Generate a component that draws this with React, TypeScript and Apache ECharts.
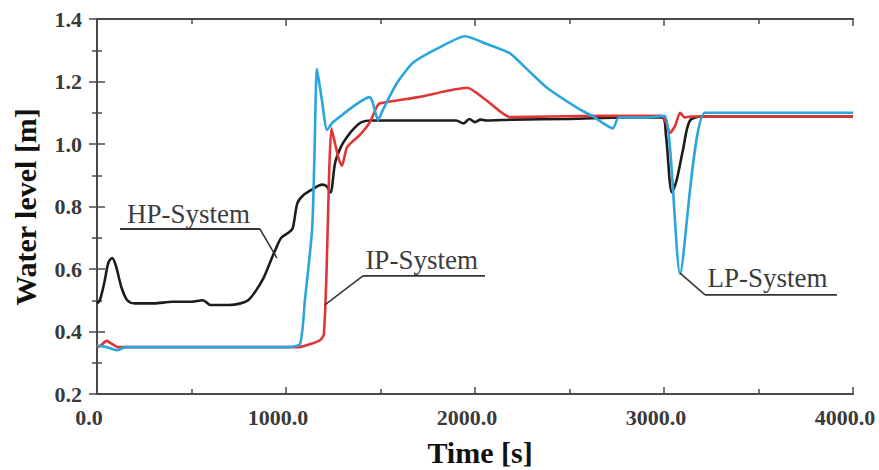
import React, { useEffect, useRef } from "react";
import * as echarts from "echarts";

const xTicks = ["0.0", "1000.0", "2000.0", "3000.0", "4000.0"];

const hpTime = [0, 15, 40, 60, 80, 100, 130, 160, 200, 300, 400, 500, 560, 600, 700, 760, 800, 840, 880, 915, 950, 975, 1010, 1035, 1060, 1090, 1140, 1190, 1215, 1235, 1260, 1290, 1320, 1360, 1400, 1450, 1600, 1800, 1900, 1940, 1970, 2000, 2030, 2060, 2200, 2500, 2800, 2990, 3010, 3042, 3065, 3100, 3137, 3200, 3500, 4000];
const hpLevel = [0.49, 0.5, 0.56, 0.62, 0.635, 0.61, 0.54, 0.5, 0.49, 0.49, 0.495, 0.495, 0.5, 0.485, 0.485, 0.49, 0.5, 0.53, 0.57, 0.62, 0.67, 0.7, 0.715, 0.73, 0.81, 0.835, 0.855, 0.87, 0.865, 0.845, 0.94, 0.99, 1.02, 1.05, 1.07, 1.075, 1.075, 1.075, 1.075, 1.066, 1.08, 1.07, 1.078, 1.075, 1.078, 1.08, 1.085, 1.085, 1.03, 0.845, 0.88, 0.98, 1.075, 1.088, 1.088, 1.088];

const ipTime = [0, 20, 50, 80, 110, 300, 600, 900, 1070, 1130, 1180, 1200, 1215, 1228, 1240, 1260, 1280, 1296, 1323, 1392, 1444, 1481, 1497, 1700, 1958, 2060, 2185, 2400, 2700, 2990, 3010, 3032, 3060, 3085, 3110, 3140, 3500, 4000];
const ipLevel = [0.35, 0.355, 0.37, 0.36, 0.35, 0.35, 0.35, 0.35, 0.35, 0.36, 0.372, 0.39, 0.6, 0.9, 1.05, 1.0, 0.95, 0.93, 0.99, 1.03, 1.07, 1.12, 1.13, 1.15, 1.18, 1.14, 1.086, 1.088, 1.09, 1.09, 1.07, 1.035, 1.06, 1.1, 1.085, 1.088, 1.088, 1.088];

const lpTime = [0, 50, 106, 150, 400, 700, 1000, 1074, 1100, 1138, 1150, 1164, 1190, 1217, 1249, 1444, 1460, 1487, 1513, 1587, 1672, 1815, 1947, 2063, 2185, 2291, 2381, 2556, 2620, 2730, 2760, 2900, 3005, 3085, 3217, 3500, 4000];
const lpLevel = [0.355, 0.35, 0.34, 0.35, 0.35, 0.35, 0.35, 0.36, 0.5, 0.725, 0.95, 1.24, 1.14, 1.045, 1.07, 1.15, 1.13, 1.077, 1.11, 1.195, 1.26, 1.31, 1.345, 1.32, 1.29, 1.23, 1.18, 1.11, 1.09, 1.05, 1.085, 1.085, 1.09, 0.585, 1.1, 1.1, 1.1];

const labels = [
  { name: "HP-System", textAt: [159, 0.734], lineFrom: [122, 0.728], lineTo: [862, 0.728], anchor: [952, 0.635], leftAnchor: false },
  { name: "IP-System", textAt: [1420, 0.585], lineFrom: [1407, 0.578], lineTo: [2053, 0.578], anchor: [1206, 0.485], leftAnchor: true },
  { name: "LP-System", textAt: [3230, 0.527], lineFrom: [3217, 0.517], lineTo: [3915, 0.517], anchor: [3085, 0.587], leftAnchor: true },
];

const pairs = (t: number[], v: number[]) => t.map((x, i) => [x, v[i]]);

export default function App() {
  const ref = useRef<HTMLDivElement>(null);
  useEffect(() => {
    if (!ref.current) return;
    const chart = echarts.init(ref.current, null, { renderer: "svg" });
    const font = "'Liberation Serif', 'Times New Roman', serif";
    const axisLine = { show: true, lineStyle: { color: "#4a4a4a", width: 2 } };
    const baseX = {
      type: "value" as const,
      min: 0,
      max: 4000,
      interval: 1000,
      splitLine: { show: false },
      axisLine,
      axisTick: { inside: true, length: 7, lineStyle: { color: "#4a4a4a", width: 1.5 } },
      minorTick: { show: true, splitNumber: 2, length: 5, lineStyle: { color: "#4a4a4a", width: 1.5 } },
    };
    const baseY = {
      type: "value" as const,
      min: 0.2,
      max: 1.4,
      interval: 0.2,
      splitLine: { show: false },
      axisLine,
      axisTick: { inside: true, length: 8, lineStyle: { color: "#4a4a4a", width: 1.5 } },
      minorTick: { show: true, splitNumber: 2, length: 5, lineStyle: { color: "#4a4a4a", width: 1.5 } },
    };
    chart.setOption({
      animation: false,
      backgroundColor: "#ffffff",
      grid: { left: 97, right: 26, top: 19, bottom: 76 },
      xAxis: [
        {
          ...baseX,
          position: "bottom",
          axisLabel: {
            fontFamily: font,
            fontWeight: "bold",
            fontSize: 22,
            color: "#3a3a3a",
            margin: 12,
            padding: [0, 16, 0, 0],
            formatter: (v: number) => xTicks[Math.round(v / 1000)] ?? "",
          },
        },
        { ...baseX, position: "top", axisLabel: { show: false } },
      ],
      yAxis: [
        {
          ...baseY,
          position: "left",
          axisLabel: {
            fontFamily: font,
            fontWeight: "bold",
            fontSize: 22,
            color: "#3a3a3a",
            margin: 15,
            formatter: (v: number) => v.toFixed(1),
          },
        },
        { ...baseY, position: "right", axisLabel: { show: false } },
      ],
      series: [
        { name: "HP-System", type: "line", data: pairs(hpTime, hpLevel), showSymbol: false, smooth: 0.3, lineStyle: { color: "#1c1c1c", width: 2.6 }, z: 2 },
        { name: "IP-System", type: "line", data: pairs(ipTime, ipLevel), showSymbol: false, smooth: 0.2, lineStyle: { color: "#df3535", width: 2.6 }, z: 3 },
        { name: "LP-System", type: "line", data: pairs(lpTime, lpLevel), showSymbol: false, smooth: 0.2, lineStyle: { color: "#2ba6dc", width: 2.6 }, z: 4 },
      ],
    });

    const px = (p: number[]) => chart.convertToPixel({ gridIndex: 0 }, p) as number[];
    const graphics: any[] = [];
    labels.forEach((l) => {
      const t = px(l.textAt);
      const a = px(l.lineFrom);
      const b = px(l.lineTo);
      const c = px(l.anchor);
      graphics.push({
        type: "text",
        x: t[0],
        y: t[1],
        z: 10,
        style: { text: l.name, fontFamily: font, fontSize: 27, fill: "#3c3c3c", textAlign: "left", textVerticalAlign: "bottom" },
      });
      graphics.push({ type: "line", z: 10, shape: { x1: a[0], y1: a[1], x2: b[0], y2: b[1] }, style: { stroke: "#333", lineWidth: 1.8 } });
      const start = l.leftAnchor ? a : b;
      graphics.push({ type: "line", z: 10, shape: { x1: start[0], y1: start[1], x2: c[0], y2: c[1] }, style: { stroke: "#333", lineWidth: 1.5 } });
    });
    graphics.push({
      type: "text",
      x: 480,
      y: 452,
      style: { text: "Time [s]", fontFamily: font, fontWeight: "bold", fontSize: 30, fill: "#111", textAlign: "center", textVerticalAlign: "middle" },
    });
    graphics.push({
      type: "text",
      x: 25,
      y: 207,
      rotation: Math.PI / 2,
      style: { text: "Water level [m]", fontFamily: font, fontWeight: "bold", fontSize: 30, fill: "#111", textAlign: "center", textVerticalAlign: "middle" },
    });
    chart.setOption({ graphic: graphics });

    return () => chart.dispose();
  }, []);
  return <div ref={ref} style={{ width: 879, height: 470, position: "absolute", left: 0, top: 0 }} />;
}
